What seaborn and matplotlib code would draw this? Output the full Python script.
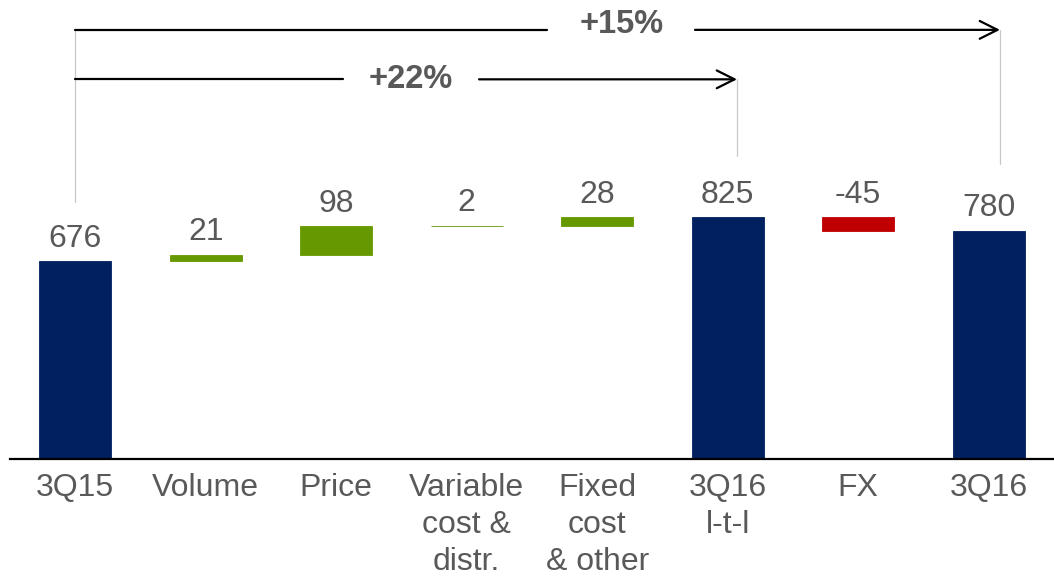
import pandas as pd
import numpy as np
import seaborn as sns
import matplotlib.pyplot as plt

# waterfall values
categories = ['3Q15', 'Volume', 'Price', 'Variable\ncost &\ndistr.', 'Fixed\ncost\n& other',
              '3Q16\nl-t-l', 'FX', '3Q16']
values = [676, 21, 98, 2, 28, 825, -45, 780]
kinds = ['total', 'delta', 'delta', 'delta', 'delta', 'total', 'delta', 'total']
labels = ['676', '21', '98', '2', '28', '825', '-45', '780']
growth_labels = ['+15%', '+22%']

navy = '#002060'
green = '#669900'
red = '#C00000'
txt = '#595959'

# running bottoms for the floating bars
bottoms = []
run = 0
for v, k in zip(values, kinds):
    if k == 'total':
        bottoms.append(0)
        run = v
    else:
        bottoms.append(run)
        run = run + v

colors = []
for v, k in zip(values, kinds):
    if k == 'total':
        colors.append(navy)
    elif v >= 0:
        colors.append(green)
    else:
        colors.append(red)

df = pd.DataFrame({'cat': categories, 'value': values, 'bottom': bottoms})

sns.set_style('white')
plt.rcParams['font.family'] = ['Liberation Sans', 'DejaVu Sans']

fig = plt.figure(figsize=(10.54, 5.77), dpi=100)
ax = fig.add_axes([10 / 1054, 118 / 577, 1044 / 1054, 459 / 577])

sns.barplot(data=df, x='cat', y='value', hue='cat', order=categories, hue_order=categories,
            palette=colors, width=0.555, legend=False, saturation=1, ax=ax)

# shift each bar onto its running bottom, keep thin ones visible
for p, b, c in zip(ax.patches, bottoms, colors):
    p.set_y(b)
    p.set_edgecolor(c)
    p.set_linewidth(0.6)

for i in range(len(values)):
    top = max(bottoms[i], bottoms[i] + values[i])
    ax.annotate(labels[i], (i, top), xytext=(0, 10.5), textcoords='offset points',
                ha='center', va='baseline', fontsize=23, color=txt)

ax.set_xlim(-0.5, 7.5)
ax.set_ylim(0, 1568)
ax.set_xlabel('')
ax.set_ylabel('')
ax.set_yticks([])
ax.tick_params(axis='x', length=0, pad=10, labelsize=23, labelcolor=txt)
for t in ax.get_xticklabels():
    t.set_linespacing(1.3)
for s in ['left', 'right', 'top']:
    ax.spines[s].set_visible(False)
ax.spines['bottom'].set_color('black')
ax.spines['bottom'].set_linewidth(1.6)

# growth arrows
gray = '#C8C8C8'
ax.plot([0, 0], [878, 1466], color=gray, lw=0.9, clip_on=False)
ax.plot([5.07, 5.07], [1035, 1297], color=gray, lw=0.9, clip_on=False)
ax.plot([7.086, 7.086], [1008, 1466], color=gray, lw=0.9, clip_on=False)

arrow = dict(arrowstyle='->,head_length=0.4,head_width=0.2', lw=1.6, color='black',
             mutation_scale=32, shrinkA=0, shrinkB=0)

ax.plot([0, 3.615], [1466, 1466], color='black', lw=1.6, clip_on=False)
ax.annotate('', xy=(7.086, 1466), xytext=(4.749, 1466), arrowprops=arrow, annotation_clip=False)
ax.text(4.186, 1455, growth_labels[0], ha='center', va='baseline', fontsize=23.5,
        fontweight='bold', color=txt)

ax.plot([0, 2.052], [1297, 1297], color='black', lw=1.6, clip_on=False)
ax.annotate('', xy=(5.071, 1297), xytext=(3.094, 1297), arrowprops=arrow, annotation_clip=False)
ax.text(2.57, 1267, growth_labels[1], ha='center', va='baseline', fontsize=23.5,
        fontweight='bold', color=txt)

fig.savefig('out.png', dpi=100)
